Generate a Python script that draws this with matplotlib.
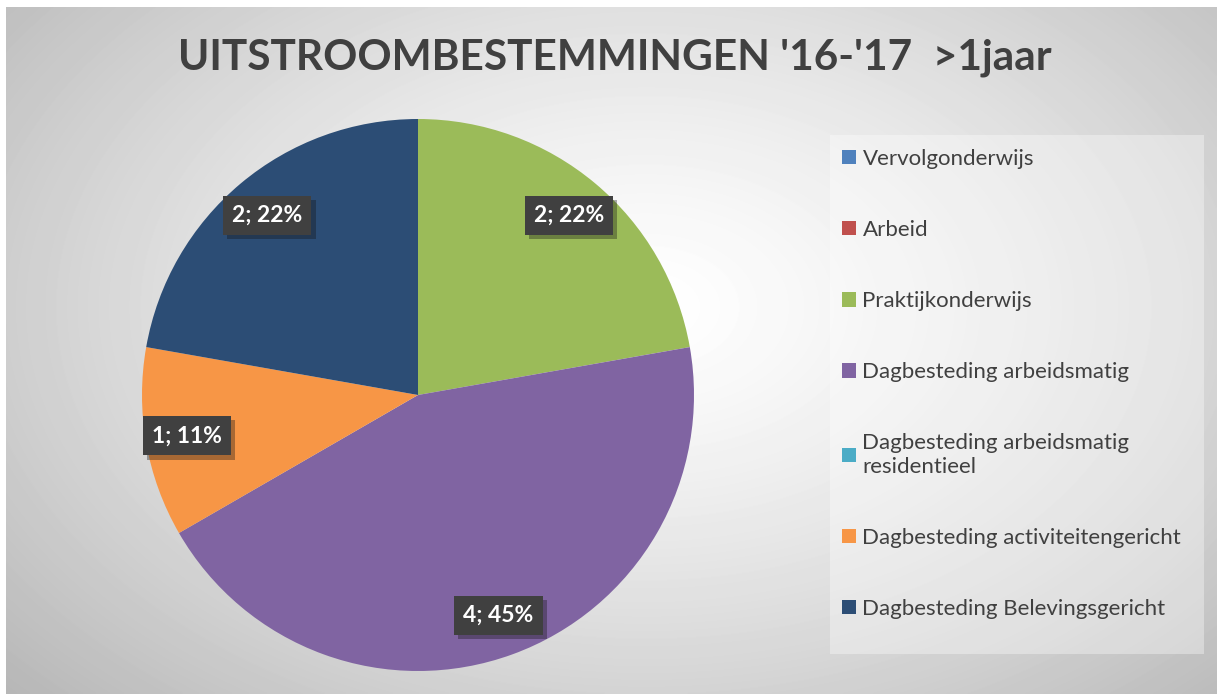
import numpy as np
import matplotlib.pyplot as plt
from matplotlib.patches import Rectangle
import matplotlib.patheffects as pe

# data
categories = ["Vervolgonderwijs", "Arbeid", "Praktijkonderwijs",
              "Dagbesteding arbeidsmatig",
              "Dagbesteding arbeidsmatig\nresidentieel",
              "Dagbesteding activiteitengericht",
              "Dagbesteding Belevingsgericht"]
counts = [0, 0, 2, 4, 0, 1, 2]
pct_labels = ["", "", "22%", "45%", "", "11%", "22%"]
colors = ["#4f81bd", "#c0504d", "#9bbb59", "#8064a2", "#4bacc6", "#f79646", "#2c4d75"]

W, H = 1217, 695
fig = plt.figure(figsize=(W / 100, H / 100), dpi=100)
fig.patch.set_facecolor("white")

# radial grey gradient background
bg = fig.add_axes([6 / W, 1 / H, 1211 / W, 687 / H])
yy, xx = np.mgrid[0:687, 0:1211]
d = np.sqrt(((xx - 640) / 640.0) ** 2 + ((yy - 300) / 420.0) ** 2) / np.sqrt(2)
shade = np.clip(1.0 - 0.30 * d ** 1.3, 0, 1)
bg.imshow(shade, cmap="gray", vmin=0, vmax=1, aspect="auto", interpolation="bilinear")
bg.axis("off")

# legend panel
fig.patches.append(Rectangle((830 / W, 1 - 654 / H), 374 / W, 519 / H,
                             transform=fig.transFigure, facecolor="white",
                             alpha=0.35, edgecolor="none", zorder=1))

fig.text(615 / W, 1 - 58 / H, "UITSTROOMBESTEMMINGEN '16-'17  >1jaar",
         ha="center", va="center", fontsize=30.5, fontweight="bold",
         color="#404040", family="Lato")

ax = fig.add_axes([142 / W, 1 - 671 / H, 552 / W, 552 / H])
ax.patch.set_alpha(0)
wedges, _ = ax.pie(counts, colors=colors, startangle=90, counterclock=False,
                   radius=1, wedgeprops=dict(linewidth=0))
ax.set_xlim(-1, 1)
ax.set_ylim(-1, 1)
ax.set_aspect("equal")

for w, c, p in zip(wedges, counts, pct_labels):
    if c == 0:
        continue
    mid = np.deg2rad((w.theta1 + w.theta2) / 2)
    r = 0.85
    t = ax.text(r * np.cos(mid), r * np.sin(mid), f"{c}; {p}",
                ha="center", va="center", color="white", fontsize=16.5,
                fontweight="bold", family="Lato",
                bbox=dict(boxstyle="square,pad=0.4", facecolor="#404040",
                          edgecolor="none"))
    t.get_bbox_patch().set_path_effects([
        pe.SimplePatchShadow(offset=(3, -3), alpha=0.35), pe.Normal()])

leg = fig.legend(wedges, categories, loc="upper left",
                 bbox_to_anchor=(822 / W, 1 - 129 / H), frameon=False,
                 labelcolor="#404040", handlelength=0.62,
                 handleheight=0.62, handletextpad=0.3, labelspacing=2.3,
                 prop=dict(family="Lato", size=16))

plt.savefig("out.png", dpi=100)
